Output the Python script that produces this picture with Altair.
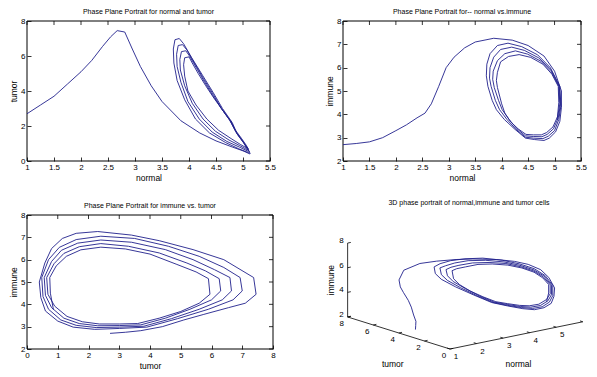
import altair as alt
import pandas as pd

# ---------------- data (one simulated trajectory) ----------------
normal = [
    1.00, 1.25, 1.50, 1.75, 2.00, 2.20, 2.40, 2.55, 2.67, 2.81, 2.95, 3.10, 3.30, 3.50, 3.85, 4.20, 4.50, 4.80, 5.00, 5.13,
    5.13, 5.10, 5.02, 4.90, 4.80, 4.62, 4.45, 4.25, 4.05, 3.90, 3.82, 3.74, 3.71, 3.72, 3.78, 3.92, 4.12, 4.38, 4.68, 4.92, 5.10,
    5.12, 5.08, 5.00, 4.88, 4.78, 4.60, 4.45, 4.27, 4.10, 3.96, 3.88, 3.80, 3.77, 3.78, 3.85, 3.98, 4.19, 4.43, 4.70, 4.93, 5.09,
    5.11, 5.07, 4.98, 4.86, 4.76, 4.60, 4.45, 4.29, 4.14, 4.01, 3.94, 3.86, 3.83, 3.84, 3.92, 4.06, 4.26, 4.49, 4.74, 4.94, 5.08,
    5.10, 5.06, 4.97, 4.85, 4.75, 4.60, 4.46, 4.31, 4.17, 4.06, 4.00, 3.92, 3.90, 3.92, 3.98, 4.13, 4.33, 4.55, 4.78, 4.95, 5.07,
    5.08, 5.05,
]
tumor = [
    2.70, 3.20, 3.70, 4.40, 5.10, 5.75, 6.55, 7.10, 7.45, 7.37, 6.40, 5.40, 4.30, 3.40, 2.30, 1.60, 1.15, 0.80, 0.58, 0.40,
    0.45, 0.60, 1.00, 1.50, 2.20, 3.00, 3.90, 4.90, 5.90, 6.70, 7.00, 6.93, 6.40, 5.60, 4.60, 3.50, 2.40, 1.60, 1.05, 0.70, 0.48,
    0.52, 0.70, 1.10, 1.60, 2.25, 3.00, 3.80, 4.70, 5.60, 6.35, 6.65, 6.60, 6.10, 5.40, 4.50, 3.40, 2.40, 1.65, 1.12, 0.80, 0.56,
    0.60, 0.80, 1.20, 1.70, 2.30, 3.00, 3.70, 4.50, 5.30, 6.00, 6.30, 6.25, 5.80, 5.20, 4.30, 3.30, 2.40, 1.70, 1.20, 0.88, 0.64,
    0.68, 0.90, 1.30, 1.80, 2.35, 3.00, 3.60, 4.30, 5.00, 5.60, 5.95, 5.90, 5.50, 4.85, 4.00, 3.20, 2.40, 1.75, 1.28, 0.95, 0.74,
    0.76, 0.86,
]
immune = [
    2.70, 2.75, 2.82, 3.00, 3.30, 3.55, 3.85, 4.05, 4.45, 5.20, 6.00, 6.45, 6.85, 7.10, 7.26, 7.18, 6.95, 6.50, 5.85, 5.00,
    4.30, 3.70, 3.25, 2.98, 2.88, 2.92, 2.98, 3.36, 3.78, 4.20, 4.60, 5.20, 5.65, 6.15, 6.60, 6.95, 7.05, 6.90, 6.55, 6.00, 5.20,
    4.35, 3.78, 3.30, 3.06, 2.96, 2.98, 3.02, 3.36, 3.78, 4.20, 4.60, 5.20, 5.55, 6.00, 6.45, 6.78, 6.88, 6.74, 6.42, 5.92, 5.20,
    4.40, 3.85, 3.38, 3.14, 3.04, 3.05, 3.08, 3.38, 3.78, 4.20, 4.60, 5.15, 5.50, 5.85, 6.30, 6.60, 6.72, 6.58, 6.28, 5.82, 5.20,
    4.45, 3.92, 3.46, 3.22, 3.12, 3.12, 3.14, 3.38, 3.68, 4.05, 4.45, 5.15, 5.45, 5.80, 6.25, 6.48, 6.56, 6.44, 6.15, 5.72, 5.20,
    4.50, 3.76,
]

normal_ticks = [1, 1.5, 2, 2.5, 3, 3.5, 4, 4.5, 5, 5.5]
tumor_ticks_y = [0, 2, 4, 6, 8]
tumor_ticks_x = [0, 1, 2, 3, 4, 5, 6, 7, 8]
immune_ticks = [2, 3, 4, 5, 6, 7, 8]

# 3D box: axis ranges and labelled ticks
normal_range = [1, 6]
tumor_range = [0, 8]
immune_range = [2, 8]
normal_ticks_3d = [1, 2, 3, 4, 5]
tumor_ticks_3d = [0, 2, 4, 6, 8]
immune_ticks_3d = [2, 4, 6, 8]

titles = [
    "Phase Plane Portrait for  normal and tumor",
    "Phase Plane Portrait for-- normal vs.immune",
    "Phase Plane Portrait for immune vs. tumor",
    "3D phase portrait of normal,immune and tumor cells",
]

# ---------------- layout & style ----------------
W_ALL, H_ALL = 581, 361
TICK = 4
LINE = "#20208c"
FONT = "Liberation Sans"

# plot boxes (x0, x1, y0, y1) inside the single drawing area
BOX1 = (19, 262, 13, 153)
BOX2 = (335, 573, 13, 153)
BOX3 = (19, 265, 207, 341)
CX, CY, S = 442, 341, 0.96      # 3D box corner and projection scale
T4 = (461, 195)                 # 3D title centre

traj = pd.DataFrame({"normal": normal, "tumor": tumor, "immune": immune})
traj["step"] = range(len(traj))


def axis_common(values, title):
    return dict(values=values, title=title, tickSize=TICK, domain=False, grid=False,
                tickColor="black", tickWidth=0.8,
                labelExpr="datum.value + ''", labelPadding=2,
                labelFontSize=8, labelFont=FONT, labelColor="black",
                labelFlush=False, labelOverlap=False,
                titleFont=FONT, titleFontSize=8.5, titleFontWeight="normal",
                titleColor="black", titlePadding=2)


def panel(xf, yf, xdom, ydom, xv, yv, xt, yt, title, box):
    x0, x1, y0, y1 = box
    xs = alt.Scale(domain=xdom, range=[x0, x1], nice=False, zero=False)
    ys = alt.Scale(domain=ydom, range=[y1, y0], nice=False, zero=False)
    ax = alt.Axis(orient="bottom", offset=y1 - TICK - H_ALL, **axis_common(xv, xt))
    ay = alt.Axis(orient="left", offset=-(x0 + TICK), **axis_common(yv, yt))

    main = alt.Chart(traj).mark_line(color=LINE, strokeWidth=0.9, clip=False).encode(
        x=alt.X(f"{xf}:Q", scale=xs, axis=ax),
        y=alt.Y(f"{yf}:Q", scale=ys, axis=ay),
        order="step:Q",
    )
    frame = alt.Chart(pd.DataFrame({"a": [xdom[0]], "b": [xdom[1]], "c": [ydom[0]], "d": [ydom[1]]})).mark_rect(
        fillOpacity=0, stroke="black", strokeWidth=1).encode(
        x=alt.X("a:Q", scale=xs, axis=ax), x2="b:Q",
        y=alt.Y("c:Q", scale=ys, axis=ay), y2="d:Q")
    top = alt.Chart(pd.DataFrame({"v": xv})).mark_rule(color="black", strokeWidth=0.8).encode(
        x=alt.X("v:Q", scale=xs, axis=ax), y=alt.value(y0), y2=alt.value(y0 + TICK))
    right = alt.Chart(pd.DataFrame({"v": yv})).mark_rule(color="black", strokeWidth=0.8).encode(
        y=alt.Y("v:Q", scale=ys, axis=ay), x=alt.value(x1 - TICK), x2=alt.value(x1))
    head = alt.Chart(pd.DataFrame({"t": [title]})).mark_text(
        font=FONT, fontSize=7, color="black", baseline="middle").encode(
        text="t:N", x=alt.value((x0 + x1) / 2), y=alt.value(y0 - 9))
    return alt.layer(frame, top, right, main, head)


p1 = panel("normal", "tumor", [1, 5.5], [0, 8], normal_ticks, tumor_ticks_y,
           "normal", "tumor", titles[0], BOX1)
p2 = panel("normal", "immune", [1, 5.5], [2, 8], normal_ticks, immune_ticks,
           "normal", "immune", titles[1], BOX2)
p3 = panel("tumor", "immune", [0, 8], [2, 8], tumor_ticks_x, immune_ticks,
           "tumor", "immune", titles[2], BOX3)

# ---------------- 3D panel (orthographic projection of the same trajectory) ----------------
DN = (27.67 * S, 5.67 * S)    # screen step per unit of normal
DT = (-13.33 * S, 4.17 * S)   # screen step per unit of tumor
DI = 12.83 * S                # screen step per unit of immune


def proj(n, t, i):
    u = (n - normal_range[0]) * DN[0] + (t - tumor_range[0]) * DT[0]
    v = (n - normal_range[0]) * DN[1] + (t - tumor_range[0]) * DT[1] + (i - immune_range[0]) * DI
    return u, v


traj["u"], traj["v"] = zip(*[proj(n, t, i) for n, t, i in zip(normal, tumor, immune)])

seg_rows = []
for a, b in [((normal_range[0], tumor_range[0], immune_range[0]), (normal_range[1], tumor_range[0], immune_range[0])),
             ((normal_range[0], tumor_range[0], immune_range[0]), (normal_range[0], tumor_range[1], immune_range[0])),
             ((normal_range[0], tumor_range[1], immune_range[0]), (normal_range[0], tumor_range[1], immune_range[1]))]:
    u1, v1 = proj(*a)
    u2, v2 = proj(*b)
    seg_rows.append({"u": u1, "v": v1, "u2": u2, "v2": v2})
for n in normal_ticks_3d + [normal_range[1]]:
    u1, v1 = proj(n, tumor_range[0], immune_range[0])
    u2, v2 = proj(n, tumor_range[0] + 0.22, immune_range[0])
    seg_rows.append({"u": u1, "v": v1, "u2": u2, "v2": v2})
for t in tumor_ticks_3d:
    u1, v1 = proj(normal_range[0], t, immune_range[0])
    u2, v2 = proj(normal_range[0] + 0.12, t, immune_range[0])
    seg_rows.append({"u": u1, "v": v1, "u2": u2, "v2": v2})
for i in immune_ticks_3d:
    u1, v1 = proj(normal_range[0], tumor_range[1], i)
    u2, v2 = proj(normal_range[0] + 0.12, tumor_range[1], i)
    seg_rows.append({"u": u1, "v": v1, "u2": u2, "v2": v2})
segs = pd.DataFrame(seg_rows)


def label_df(points, labels):
    rows = []
    for (n, t, i), lab in zip(points, labels):
        u, v = proj(n, t, i)
        rows.append({"u": u, "v": v, "label": str(lab)})
    return pd.DataFrame(rows)


lab_n = label_df([(n, tumor_range[0], immune_range[0]) for n in normal_ticks_3d], normal_ticks_3d)
lab_t = label_df([(normal_range[0], t, immune_range[0]) for t in tumor_ticks_3d], tumor_ticks_3d)
lab_i = label_df([(normal_range[0], tumor_range[1], i) for i in immune_ticks_3d], immune_ticks_3d)
ttl_n = label_df([(3.5, tumor_range[0], immune_range[0])], ["normal"])
ttl_t = label_df([(normal_range[0], 4, immune_range[0])], ["tumor"])
ttl_i = label_df([(normal_range[0], tumor_range[1], 5)], ["immune"])

xs4 = alt.Scale(domain=[0, 100], range=[CX, CX + 100], nice=False, zero=False)
ys4 = alt.Scale(domain=[0, 100], range=[CY, CY - 100], nice=False, zero=False)
X4 = alt.X("u:Q", scale=xs4, axis=None)
Y4 = alt.Y("v:Q", scale=ys4, axis=None)

box = alt.Chart(segs).mark_rule(color="black", strokeWidth=0.8).encode(
    x=X4, y=Y4, x2="u2:Q", y2="v2:Q")
curve = alt.Chart(traj).mark_line(color=LINE, strokeWidth=0.9).encode(x=X4, y=Y4, order="step:Q")


def txt(df, dx, dy, align="center", angle=0, size=8):
    return alt.Chart(df).mark_text(font=FONT, fontSize=size, color="black", dx=dx, dy=dy,
                                   align=align, baseline="middle", angle=angle).encode(
        x=X4, y=Y4, text="label:N")


head4 = alt.Chart(pd.DataFrame({"t": [titles[3]]})).mark_text(
    font=FONT, fontSize=7, color="black", baseline="middle").encode(
    text="t:N", x=alt.value(T4[0]), y=alt.value(T4[1]))

# rotated title: offsets are applied in the text's own (rotated) frame
p4 = alt.layer(box, curve,
               txt(lab_n, 6, 8), txt(lab_t, -6, 7), txt(lab_i, -4, -2, align="right"),
               txt(ttl_n, 2, 29, size=8.5), txt(ttl_t, -6, 31, size=8.5),
               txt(ttl_i, 0, -17, angle=270, size=8.5), head4)

chart = (alt.layer(p1, p2, p3, p4)
         .resolve_scale(x="independent", y="independent")
         .resolve_axis(x="independent", y="independent")
         .properties(width=W_ALL, height=H_ALL, padding=0, background="white",
                     autosize=alt.AutoSizeParams(type="none"))
         .configure_view(strokeWidth=0))

chart.save("out.html", embed_options={"renderer": "svg", "actions": False})
